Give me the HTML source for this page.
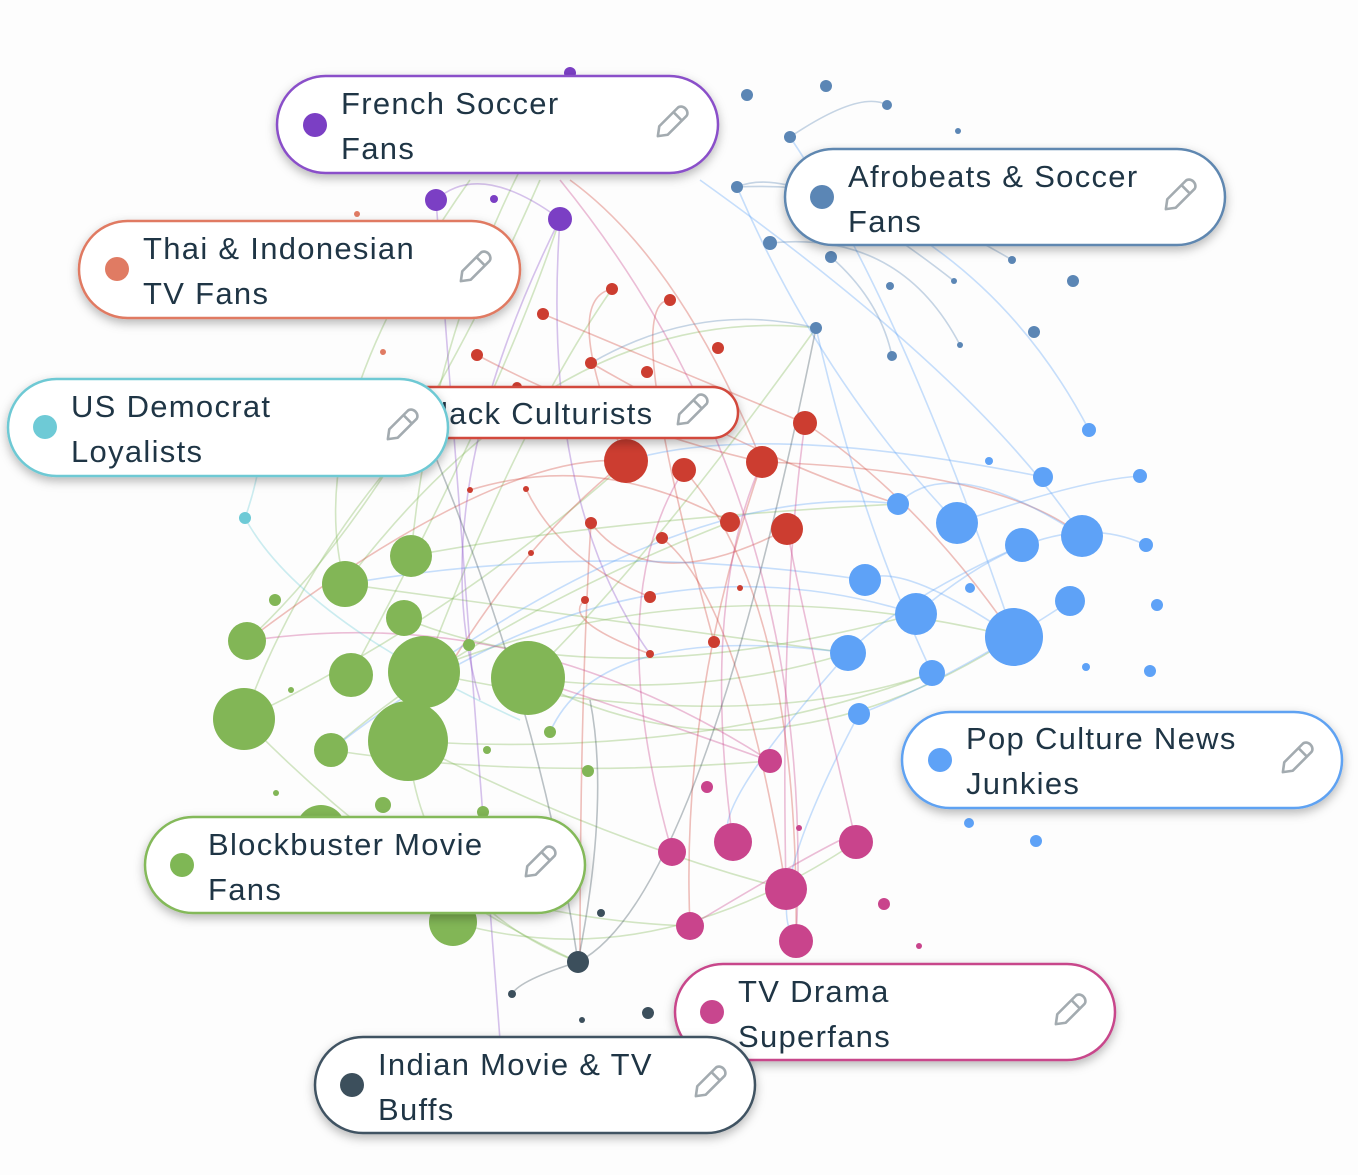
<!DOCTYPE html>
<html><head><meta charset="utf-8"><style>
html,body{margin:0;padding:0;background:#fff;}
svg{display:block;}
text{font-family:"Liberation Sans",sans-serif;font-size:31px;letter-spacing:1.3px;fill:#1f3545;}
.pill{fill:#fff;stroke-width:2.5;filter:url(#sh);}
.e{fill:none;stroke-width:1.6;opacity:.35;}
.g{stroke:#82b656}.r{stroke:#d2483c}.b{stroke:#5ea2f7}.s{stroke:#5b86b5}.p{stroke:#c9448c}.v{stroke:#8a4fc9}.k{stroke:#3c4f5c}.c{stroke:#6ecad6}
</style></head><body>
<svg width="1358" height="1175" viewBox="0 0 1358 1175" xmlns="http://www.w3.org/2000/svg">
<defs>
<filter id="sh" x="-10%" y="-20%" width="120%" height="150%"><feDropShadow dx="0" dy="4" stdDeviation="5" flood-color="#000" flood-opacity="0.28"/></filter>
<g id="pen"><g transform="rotate(-45)" fill="none" stroke="#a3abb0" stroke-width="2.6" stroke-linejoin="round"><path d="M-20 0 L-12 -6 H14 A5 6 0 0 1 14 6 H-12 Z"/><path d="M8 -6 V6"/></g></g>
</defs>
<rect width="1358" height="1175" fill="#fdfdfd"/>
<g>
<path class="e g" d="M411 556 Q600 520 898 504"/><path class="e g" d="M345 584 Q560 300 816 328"/>
<path class="e g" d="M424 672 Q700 560 1014 637"/><path class="e g" d="M528 678 Q700 700 848 653"/>
<path class="e g" d="M244 719 Q450 620 628 461"/><path class="e g" d="M408 741 Q600 840 786 889"/>
<path class="e g" d="M247 641 Q400 500 540 180"/><path class="e g" d="M351 675 Q500 400 560 219"/>
<path class="e g" d="M331 750 Q480 620 730 522"/><path class="e g" d="M424 672 Q520 420 612 289"/>
<path class="e g" d="M528 678 Q760 800 1014 637"/><path class="e g" d="M404 618 Q600 700 916 614"/>
<path class="e g" d="M453 922 Q650 980 856 842"/><path class="e g" d="M408 741 Q420 900 578 962"/>
<path class="e g" d="M321 830 Q500 920 690 926"/><path class="e g" d="M244 719 Q400 880 578 962"/>
<path class="e g" d="M345 584 Q300 420 470 180"/><path class="e g" d="M411 556 Q430 350 520 170"/>
<path class="e g" d="M528 678 Q650 560 816 328"/><path class="e g" d="M424 672 Q740 740 932 673"/>
<path class="e g" d="M244 719 Q300 560 430 420"/><path class="e g" d="M331 750 Q520 780 770 761"/>
<path class="e g" d="M345 584 Q600 620 848 653"/><path class="e g" d="M408 741 Q700 760 932 673"/>
<path class="e r" d="M626 461 Q500 450 247 641"/><path class="e r" d="M684 470 Q800 600 796 941"/>
<path class="e r" d="M762 462 Q680 700 690 926"/><path class="e r" d="M805 423 Q920 500 1014 637"/>
<path class="e r" d="M626 461 Q560 300 612 289"/><path class="e r" d="M730 522 Q600 450 470 490"/>
<path class="e r" d="M787 529 Q650 600 591 523"/><path class="e r" d="M650 597 Q560 560 526 489"/>
<path class="e r" d="M714 642 Q620 300 670 300"/><path class="e r" d="M543 314 Q700 380 805 423"/>
<path class="e r" d="M477 355 Q620 430 762 462"/><path class="e r" d="M591 363 Q760 460 898 504"/>
<path class="e r" d="M626 461 Q500 560 408 741"/><path class="e r" d="M570 180 Q680 260 762 462"/>
<path class="e r" d="M650 654 Q560 620 585 600"/><path class="e r" d="M662 538 Q740 600 786 889"/>
<path class="e r" d="M591 523 Q580 700 580 960"/><path class="e r" d="M762 462 Q1000 470 1082 536"/>
<path class="e b" d="M898 504 Q700 480 424 672"/><path class="e b" d="M865 580 Q600 540 345 584"/>
<path class="e b" d="M957 523 Q820 380 737 187"/><path class="e b" d="M1014 637 Q900 300 790 137"/>
<path class="e b" d="M848 653 Q700 820 733 842"/><path class="e b" d="M859 714 Q760 900 796 941"/>
<path class="e b" d="M916 614 Q1050 500 1146 545"/><path class="e b" d="M1022 545 Q900 600 848 653"/>
<path class="e b" d="M1082 536 Q950 450 898 504"/><path class="e b" d="M1070 601 Q950 680 859 714"/>
<path class="e b" d="M957 523 Q1080 480 1140 476"/><path class="e b" d="M1014 637 Q900 560 865 580"/>
<path class="e b" d="M1089 430 Q1000 260 830 190"/><path class="e b" d="M932 673 Q860 520 816 328"/>
<path class="e b" d="M1043 477 Q760 420 626 461"/><path class="e b" d="M916 614 Q620 520 331 750"/>
<path class="e b" d="M1082 536 Q980 380 700 180"/><path class="e b" d="M848 653 Q600 620 550 732"/>
<path class="e s" d="M737 187 Q880 180 1012 260"/><path class="e s" d="M770 243 Q900 230 960 345"/>
<path class="e s" d="M790 137 Q860 90 887 105"/><path class="e s" d="M831 257 Q880 300 892 356"/>
<path class="e s" d="M737 187 Q800 160 954 281"/><path class="e s" d="M816 328 Q700 300 591 363"/>
<path class="e p" d="M770 761 Q520 600 247 641"/><path class="e p" d="M786 889 Q780 600 805 423"/>
<path class="e p" d="M733 842 Q700 600 762 462"/><path class="e p" d="M856 842 Q800 600 787 529"/>
<path class="e p" d="M672 852 Q600 600 684 470"/><path class="e p" d="M690 926 Q900 800 856 842"/>
<path class="e p" d="M796 941 Q820 500 560 180"/><path class="e p" d="M770 761 Q600 700 528 678"/>
<path class="e v" d="M436 200 Q480 160 560 219"/><path class="e v" d="M560 219 Q540 500 650 654"/>
<path class="e v" d="M436 200 Q460 500 500 1040"/><path class="e v" d="M560 219 Q420 500 480 700"/>
<path class="e k" d="M578 962 Q540 700 420 420"/><path class="e k" d="M578 962 Q520 980 512 994"/>
<path class="e k" d="M578 962 Q610 800 590 700"/><path class="e k" d="M578 962 Q700 900 816 328"/>
<path class="e c" d="M245 518 Q300 620 520 720"/><path class="e c" d="M245 518 Q255 490 260 460"/>
</g>
<g fill="#82b656">
<circle cx="411" cy="556" r="21"/><circle cx="345" cy="584" r="23"/><circle cx="404" cy="618" r="18"/><circle cx="247" cy="641" r="19"/><circle cx="351" cy="675" r="22"/><circle cx="424" cy="672" r="36"/><circle cx="528" cy="678" r="37"/><circle cx="244" cy="719" r="31"/><circle cx="331" cy="750" r="17"/><circle cx="408" cy="741" r="40"/><circle cx="321" cy="830" r="25"/><circle cx="453" cy="922" r="24"/><circle cx="383" cy="805" r="8"/><circle cx="483" cy="812" r="6"/><circle cx="550" cy="732" r="6"/><circle cx="588" cy="771" r="6"/><circle cx="469" cy="645" r="6"/><circle cx="487" cy="750" r="4"/><circle cx="275" cy="600" r="6"/><circle cx="291" cy="690" r="3"/><circle cx="276" cy="793" r="3"/>
</g>
<g fill="#cc3d30">
<circle cx="626" cy="461" r="22"/><circle cx="684" cy="470" r="12"/><circle cx="762" cy="462" r="16"/><circle cx="805" cy="423" r="12"/><circle cx="730" cy="522" r="10"/><circle cx="787" cy="529" r="16"/><circle cx="612" cy="289" r="6"/><circle cx="670" cy="300" r="6"/><circle cx="543" cy="314" r="6"/><circle cx="477" cy="355" r="6"/><circle cx="591" cy="363" r="6"/><circle cx="647" cy="372" r="6"/><circle cx="718" cy="348" r="6"/><circle cx="517" cy="387" r="5"/><circle cx="470" cy="490" r="3"/><circle cx="526" cy="489" r="3"/><circle cx="591" cy="523" r="6"/><circle cx="662" cy="538" r="6"/><circle cx="650" cy="597" r="6"/><circle cx="714" cy="642" r="6"/><circle cx="650" cy="654" r="4"/><circle cx="585" cy="600" r="4"/><circle cx="531" cy="553" r="3"/><circle cx="740" cy="588" r="3"/><circle cx="383" cy="352" r="3" fill="#e07b63"/><circle cx="357" cy="214" r="3" fill="#e07b63"/>
</g>
<g fill="#7b3fc4"><circle cx="570" cy="73" r="6"/><circle cx="436" cy="200" r="11"/><circle cx="560" cy="219" r="12"/><circle cx="494" cy="199" r="4"/></g>
<g fill="#5b86b5">
<circle cx="747" cy="95" r="6"/><circle cx="826" cy="86" r="6"/><circle cx="887" cy="105" r="5"/><circle cx="958" cy="131" r="3"/><circle cx="790" cy="137" r="6"/><circle cx="737" cy="187" r="6"/><circle cx="770" cy="243" r="7"/><circle cx="831" cy="257" r="6"/><circle cx="1012" cy="260" r="4"/><circle cx="890" cy="286" r="4"/><circle cx="954" cy="281" r="3"/><circle cx="1073" cy="281" r="6"/><circle cx="1034" cy="332" r="6"/><circle cx="816" cy="328" r="6"/><circle cx="892" cy="356" r="5"/><circle cx="960" cy="345" r="3"/>
</g>
<g fill="#5ea2f7">
<circle cx="1089" cy="430" r="7"/><circle cx="1043" cy="477" r="10"/><circle cx="989" cy="461" r="4"/><circle cx="1140" cy="476" r="7"/><circle cx="898" cy="504" r="11"/><circle cx="957" cy="523" r="21"/><circle cx="1022" cy="545" r="17"/><circle cx="1082" cy="536" r="21"/><circle cx="1146" cy="545" r="7"/><circle cx="865" cy="580" r="16"/><circle cx="916" cy="614" r="21"/><circle cx="970" cy="588" r="5"/><circle cx="1014" cy="637" r="29"/><circle cx="1070" cy="601" r="15"/><circle cx="1157" cy="605" r="6"/><circle cx="848" cy="653" r="18"/><circle cx="932" cy="673" r="13"/><circle cx="1086" cy="667" r="4"/><circle cx="1150" cy="671" r="6"/><circle cx="859" cy="714" r="11"/><circle cx="969" cy="823" r="5"/><circle cx="1036" cy="841" r="6"/>
</g>
<g fill="#c9448c">
<circle cx="770" cy="761" r="12"/><circle cx="707" cy="787" r="6"/><circle cx="672" cy="852" r="14"/><circle cx="733" cy="842" r="19"/><circle cx="856" cy="842" r="17"/><circle cx="786" cy="889" r="21"/><circle cx="690" cy="926" r="14"/><circle cx="796" cy="941" r="17"/><circle cx="884" cy="904" r="6"/><circle cx="919" cy="946" r="3"/><circle cx="799" cy="828" r="3"/>
</g>
<g fill="#3c4f5c"><circle cx="578" cy="962" r="11"/><circle cx="601" cy="913" r="4"/><circle cx="512" cy="994" r="4"/><circle cx="582" cy="1020" r="3"/><circle cx="648" cy="1013" r="6"/></g>
<circle cx="245" cy="518" r="6" fill="#6ecad6"/>

<rect class="pill" x="277" y="76" width="441" height="97" rx="48.5" stroke="#8a4fc9"/>
<circle cx="315" cy="125" r="12" fill="#7b3fc4"/><text x="341" y="114">French Soccer</text><text x="341" y="159">Fans</text><use href="#pen" x="672" y="122"/>

<rect class="pill" x="785" y="149" width="440" height="96" rx="48" stroke="#5f87b0"/>
<circle cx="822" cy="197" r="12" fill="#5b86b5"/><text x="848" y="187">Afrobeats &amp; Soccer</text><text x="848" y="232">Fans</text><use href="#pen" x="1180" y="195"/>

<rect class="pill" x="79" y="221" width="441" height="97" rx="48.5" stroke="#e07a62"/>
<circle cx="117" cy="269" r="12" fill="#e07b63"/><text x="143" y="259">Thai &amp; Indonesian</text><text x="143" y="304">TV Fans</text><use href="#pen" x="475" y="267"/>

<rect class="pill" x="380" y="387" width="358" height="51" rx="25.5" stroke="#d2483c"/>
<text x="419" y="424">Black Culturists</text><use href="#pen" x="692" y="410"/>

<rect class="pill" x="8" y="379" width="440" height="97" rx="48.5" stroke="#6ec9d4"/>
<circle cx="45" cy="427" r="12" fill="#6ecad6"/><text x="71" y="417">US Democrat</text><text x="71" y="462">Loyalists</text><use href="#pen" x="402" y="425"/>

<rect class="pill" x="902" y="712" width="440" height="96" rx="48" stroke="#5ea2f2"/>
<circle cx="940" cy="760" r="12" fill="#5ea2f7"/><text x="966" y="749">Pop Culture News</text><text x="966" y="794">Junkies</text><use href="#pen" x="1297" y="758"/>

<rect class="pill" x="145" y="817" width="440" height="96" rx="48" stroke="#84b95a"/>
<circle cx="182" cy="865" r="12" fill="#7fb755"/><text x="208" y="855">Blockbuster Movie</text><text x="208" y="900">Fans</text><use href="#pen" x="540" y="862"/>

<rect class="pill" x="675" y="964" width="440" height="96" rx="48" stroke="#c8468b"/>
<circle cx="712" cy="1012" r="12" fill="#c8468e"/><text x="738" y="1002">TV Drama</text><text x="738" y="1047">Superfans</text><use href="#pen" x="1070" y="1010"/>

<rect class="pill" x="315" y="1037" width="440" height="96" rx="48" stroke="#3f5362"/>
<circle cx="352" cy="1085" r="12" fill="#3c4f5c"/><text x="378" y="1075">Indian Movie &amp; TV</text><text x="378" y="1120">Buffs</text><use href="#pen" x="710" y="1082"/>
</svg>
</body></html>
